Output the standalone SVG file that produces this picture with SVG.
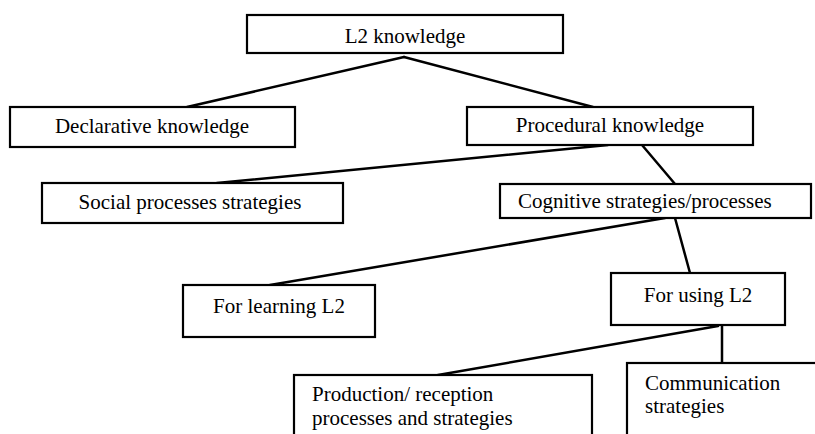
<svg xmlns="http://www.w3.org/2000/svg" width="815" height="434" viewBox="0 0 815 434">
  <style>
    .box { fill: #ffffff; stroke: #000000; stroke-width: 2.2; }
    text { font-family: 'Liberation Serif', Tinos, 'Nimbus Roman', 'Nimbus Roman No9 L', FreeSerif, 'Noto Serif', 'DejaVu Serif', Times, serif; font-size: 21px; fill: #000000; }
    .mid { text-anchor: middle; }
    .link { stroke: #000000; stroke-width: 2.5; fill: none; stroke-linecap: round; }
  </style>
  <rect width="815" height="434" fill="#ffffff"/>

  <!-- connectors -->
  <g id="connectors">
    <line class="link" x1="404" y1="57" x2="187" y2="107"/>
    <line class="link" x1="404" y1="57" x2="593" y2="107"/>
    <line class="link" x1="608" y1="145" x2="217" y2="183"/>
    <line class="link" x1="642" y1="145" x2="675" y2="184"/>
    <line class="link" x1="665" y1="218" x2="270" y2="285"/>
    <line class="link" x1="675" y1="218" x2="690" y2="273"/>
    <line class="link" x1="718" y1="326" x2="438" y2="375"/>
    <line class="link" x1="722" y1="326" x2="722" y2="363"/>
  </g>

  <g id="l2-knowledge">
    <rect class="box" x="247" y="15" width="316" height="38"/>
    <text class="mid" x="405" y="43">L2 knowledge</text>
  </g>

  <g id="declarative-knowledge">
    <rect class="box" x="10" y="107" width="285" height="40"/>
    <text class="mid" x="152" y="133">Declarative knowledge</text>
  </g>

  <g id="procedural-knowledge">
    <rect class="box" x="467" y="107" width="286" height="38"/>
    <text class="mid" x="610" y="132">Procedural knowledge</text>
  </g>

  <g id="social-processes">
    <rect class="box" x="42" y="183" width="301" height="40"/>
    <text class="mid" x="190" y="209">Social processes strategies</text>
  </g>

  <g id="cognitive-strategies">
    <rect class="box" x="500" y="184" width="311" height="34"/>
    <text x="518" y="208">Cognitive strategies/processes</text>
  </g>

  <g id="for-learning">
    <rect class="box" x="183" y="285" width="192" height="52"/>
    <text class="mid" x="279" y="313">For learning L2</text>
  </g>

  <g id="for-using">
    <rect class="box" x="611" y="273" width="174" height="52"/>
    <text class="mid" x="698" y="302">For using L2</text>
  </g>

  <g id="production-reception">
    <rect class="box" x="294" y="375" width="298" height="70"/>
    <text x="312" y="401">Production/ reception</text>
    <text x="312" y="425">processes and strategies</text>
  </g>

  <g id="communication">
    <rect class="box" x="627" y="363" width="200" height="80"/>
    <text x="645" y="390">Communication</text>
    <text x="645" y="413">strategies</text>
  </g>
</svg>
